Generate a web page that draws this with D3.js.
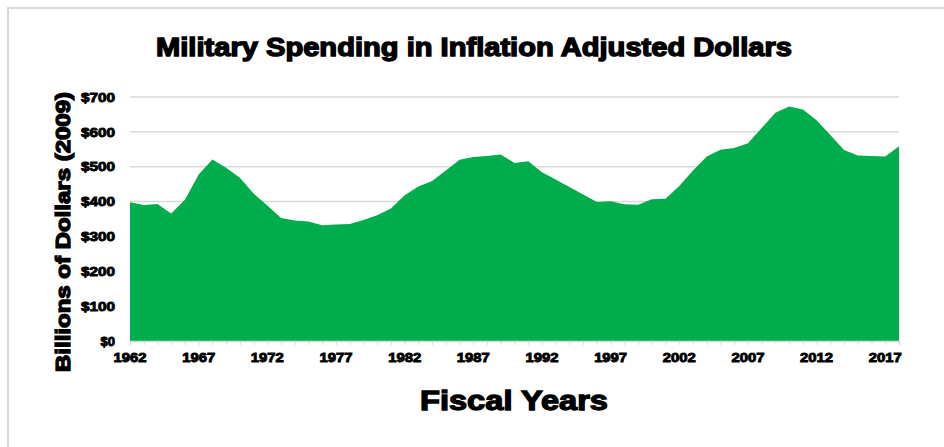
<!DOCTYPE html>
<html>
<head>
<meta charset="utf-8">
<script src="https://cdn.jsdelivr.net/npm/d3@7"></script>
<style>
  body { margin: 0; background: #fff; }
  text { font-family: "Liberation Sans", Arial, sans-serif; font-weight: bold; fill: #000; }
</style>
</head>
<body>
<div id="chart"></div>
<script>
// fiscal years 1962..2018, billions of 2009 dollars
const years = d3.range(1962, 2019);
const spending = [
  398, 390, 393, 366, 405, 478, 521, 497, 468, 423,
  389, 353, 346, 343, 332, 334, 336, 347, 361, 380,
  418, 443, 459, 489, 520, 528, 531, 535, 511, 516,
  484, 463, 442, 420, 399, 401, 392, 391, 407, 408,
  445, 489, 529, 549, 554, 567, 611, 655, 673, 664,
  633, 591, 548, 532, 531, 529, 559
];
const yTicks = [0, 100, 200, 300, 400, 500, 600, 700];
const xLabels = [1962, 1967, 1972, 1977, 1982, 1987, 1992, 1997, 2002, 2007, 2012, 2017];

const width = 944, height = 447;
const margin = {left: 130, right: 45, top: 97, bottom: 106};

const data = years.map((y, i) => ({year: y, value: spending[i]}));

const svg = d3.select('#chart').append('svg')
  .attr('width', width).attr('height', height);

// outer frame
svg.append('rect')
  .attr('x', 8).attr('y', 8)
  .attr('width', width + 20).attr('height', height + 20)
  .attr('fill', 'none').attr('stroke', '#d9d9d9').attr('stroke-width', 2);

let x = d3.scaleLinear()
  .domain([1962, 2018])
  .range([margin.left, width - margin.right]);

let y = d3.scaleLinear()
  .domain([0, 700])
  .range([height - margin.bottom, margin.top]);

// gridlines
svg.append('g').attr('class', 'grid')
  .selectAll('line')
  .data(yTicks.filter(d => d > 0))
  .join('line')
  .attr('x1', x(1962)).attr('x2', x(2018))
  .attr('y1', d => y(d)).attr('y2', d => y(d))
  .attr('stroke', '#d9d9d9').attr('stroke-width', 1.5);

// area
let area = d3.area()
  .x(d => x(d.year))
  .y0(y(0))
  .y1(d => y(d.value));

svg.append('path')
  .datum(data)
  .attr('d', area)
  .attr('fill', '#00ad4d');

// x axis: baseline + yearly ticks
let xAxis = d3.axisBottom(x)
  .tickValues(years)
  .tickSize(4)
  .tickFormat('');

let gx = svg.append('g')
  .attr('transform', `translate(0,${y(0)})`)
  .call(xAxis);
gx.select('.domain').attr('stroke', '#d9d9d9').attr('stroke-width', 1.5);
gx.selectAll('.tick line').attr('stroke', '#d9d9d9');

svg.append('g').selectAll('text')
  .data(xLabels)
  .join('text')
  .attr('x', d => x(d))
  .attr('y', y(0) + 21)
  .attr('text-anchor', 'middle')
  .style('font-size', '13px')
  .style('stroke', '#000').style('stroke-width', 0.9)
  .attr('textLength', 33).attr('lengthAdjust', 'spacingAndGlyphs')
  .text(d => d);

// y labels
let gy = svg.append('g')
  .attr('transform', `translate(${margin.left - 15},0)`)
  .call(d3.axisLeft(y).tickValues(yTicks).tickSize(0).tickFormat(d => '$' + d));
gy.select('.domain').remove();
gy.selectAll('text')
  .attr('x', 0)
  .style('font-family', '"Liberation Sans", Arial, sans-serif')
  .style('font-weight', 'bold')
  .style('font-size', '13px')
  .style('stroke', '#000').style('stroke-width', 0.9)
  .each(function(d) {
    if (d > 0) d3.select(this).attr('textLength', 34).attr('lengthAdjust', 'spacingAndGlyphs');
  });

// title
svg.append('text')
  .attr('x', 474).attr('y', 56)
  .attr('text-anchor', 'middle')
  .style('font-family', '"Liberation Sans Narrow", "Liberation Sans", sans-serif')
  .style('font-size', '26px')
  .style('stroke', '#000').style('stroke-width', 1.4)
  .attr('textLength', 636).attr('lengthAdjust', 'spacingAndGlyphs')
  .text('Military Spending in Inflation Adjusted Dollars');

// y axis title
svg.append('text')
  .attr('transform', 'translate(70,232) rotate(-90)')
  .attr('text-anchor', 'middle')
  .style('font-size', '20px')
  .style('stroke', '#000').style('stroke-width', 1.3)
  .attr('textLength', 280).attr('lengthAdjust', 'spacingAndGlyphs')
  .text('Billions of Dollars (2009)');

// x axis title
svg.append('text')
  .attr('x', 514).attr('y', 410)
  .attr('text-anchor', 'middle')
  .style('font-size', '27px')
  .style('stroke', '#000').style('stroke-width', 1.3)
  .attr('textLength', 188).attr('lengthAdjust', 'spacingAndGlyphs')
  .text('Fiscal Years');
</script>
</body>
</html>
